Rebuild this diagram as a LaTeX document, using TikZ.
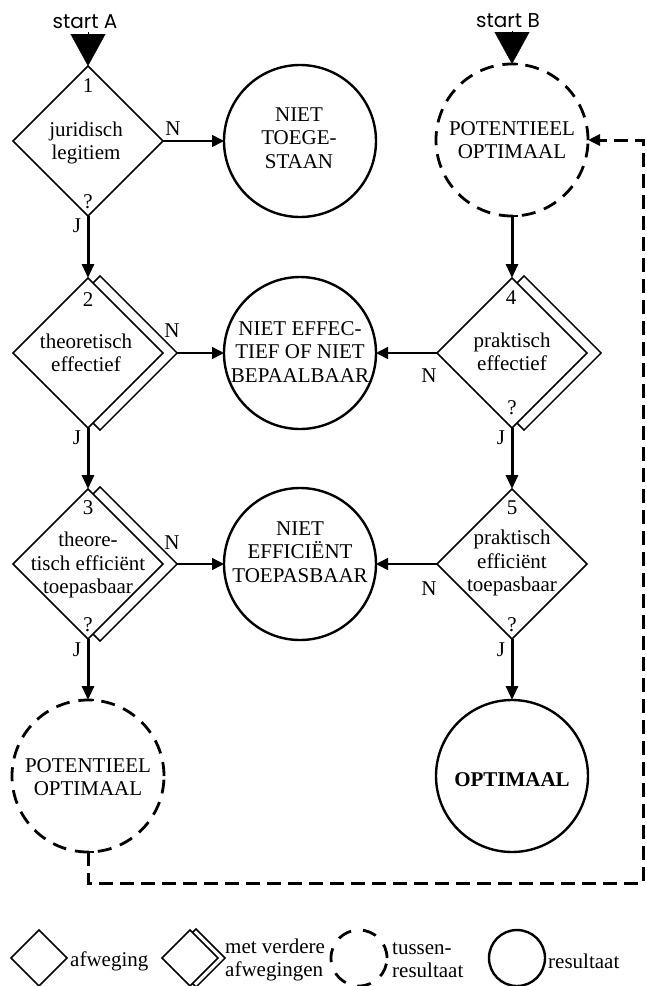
\documentclass[tikz,border=0pt]{standalone}
\usepackage{fontspec}
\setmainfont{Liberation Serif}
\newfontfamily\startfont{Poppins}
\usetikzlibrary{shapes.geometric,arrows.meta,calc}

% second outline along the right-hand edges of a decision diamond
% #1 node, #2 half size, #3 offset of the extra line
\newcommand\furtherline[3]{%
  \draw[further]
    ($(#1.center)+({0.5*#3},{-#2+0.5*#3})$)
    -- ($(#1.center)+({0.5*#3+0.7071*#3},{-#2+0.5*#3-0.7071*#3})$)
    -- ($(#1.center)+({#2+1.4142*#3},0)$)
    -- ($(#1.center)+({0.5*#3+0.7071*#3},{#2-0.5*#3+0.7071*#3})$)
    -- ($(#1.center)+({0.5*#3},{#2-0.5*#3})$);}

\tikzset{
  txt/.style={font=\fontsize{21}{23.5}\selectfont, align=center, inner sep=0pt},
  tag/.style={font=\fontsize{21}{23.5}\selectfont, inner sep=0pt},
  choice/.style={draw, diamond, minimum width=150pt, minimum height=150pt,
    inner sep=0pt, outer sep=0pt, line width=1.5pt},
  outcome/.style={draw, circle, minimum size=152pt, inner sep=0pt, outer sep=0pt,
    line width=2.4pt},
  interim/.style={outcome, line width=2.8pt, dash pattern=on 14pt off 9pt},
  further/.style={line width=1.5pt, line join=miter},
  yesflow/.style={line width=3pt, -{Triangle[length=14pt,width=12pt]}},
  noflow/.style={line width=1.5pt, -{Triangle[length=12pt,width=12pt]}},
  loopflow/.style={line width=3pt, dash pattern=on 14pt off 7pt,
    -{Triangle[length=12pt,width=11pt]}},
  joint/.style={line width=2.8pt},
  startflow/.style={line width=0.4pt, shorten <=4pt,
    -{Triangle[length=32pt,width=35pt]}},
  startlbl/.style={font=\startfont\fontsize{20}{22}\selectfont, inner sep=0pt}
}

\begin{document}
\begin{tikzpicture}[x=1pt,y=-1pt]
\useasboundingbox (0,0) rectangle (646,986);

% decisions
\node[choice] (d1) at (88,141) {};
\node[choice] (d2) at (88,353) {};
\node[choice] (d3) at (88,564) {};
\node[choice] (d4) at (512,353) {};
\node[choice] (d5) at (512,564) {};
\furtherline{d2}{75}{10}
\furtherline{d3}{75}{10}
\furtherline{d4}{75}{10}

% outcomes
\node[outcome] (c1) at (300,141) {};
\node[outcome] (c2) at (300,353) {};
\node[outcome] (c3) at (300,564) {};
\node[interim] (pt) at (512,140) {};
\node[interim] (pl) at (88,776) {};
\node[outcome] (co) at (512,776) {};

% texts of the shapes
\node[txt] (t1) at (86,143) {juridisch\\legitiem};
\node[txt] (t2) at (86,353) {theoretisch\\effectief};
\node[txt] (t3) at (88,565) {theore-\\tisch efficiënt\\toepasbaar};
\node[txt] (t4) at (512,352) {praktisch\\effectief};
\node[txt] (t5) at (512,563) {praktisch\\efficiënt\\toepasbaar};
\node[txt] (tc1) at (299,138) {NIET\\TOEGE-\\STAAN};
\node[txt] (tc2) at (300,352) {NIET EFFEC-\\TIEF OF NIET\\BEPAALBAAR};
\node[txt] (tc3) at (300,552) {NIET\\EFFICIËNT\\TOEPASBAAR};
\node[txt] (tpt) at (512,140) {POTENTIEEL\\OPTIMAAL};
\node[txt] (tpl) at (88,777) {POTENTIEEL\\OPTIMAAL};
\node[txt, font=\fontsize{21}{23.5}\selectfont\bfseries] (tco) at (512,780) {OPTIMAAL};

% numbers, question marks and answers
\node[tag] (n1) at (88,86) {1};
\node[tag] (n2) at (88,300) {2};
\node[tag] (n3) at (88,508) {3};
\node[tag] (n4) at (511,298) {4};
\node[tag] (n5) at (512,508) {5};
\node[tag] (q1) at (88,202) {?};
\node[tag] (q3) at (88,625) {?};
\node[tag] (q4) at (512,408) {?};
\node[tag] (q5) at (512,625) {?};
\node[tag] (a1n) at (173,129) {N};
\node[tag] (a2n) at (172,331) {N};
\node[tag] (a3n) at (172,543) {N};
\node[tag] (a4n) at (429,376) {N};
\node[tag] (a5n) at (429,589) {N};
\node[tag] (a1j) at (77,226) {J};
\node[tag] (a2j) at (77,438) {J};
\node[tag] (a3j) at (77,650) {J};
\node[tag] (a4j) at (501,438) {J};
\node[tag] (a5j) at (501,650) {J};

% start markers
\node[startlbl, anchor=base] (sa) at (85,28) {start A};
\node[startlbl, anchor=base] (sb) at (508,27) {start B};
\draw[startflow] (sa.south -| d1.north) -- (d1.north);
\draw[startflow] (sb.south -| pt.north) -- (pt.north);

% answer N
\draw[noflow] (d1.east) -- (c1.west);
\draw[noflow] ([xshift=14.14pt]d2.east) -- (c2.west);
\draw[noflow] ([xshift=14.14pt]d3.east) -- (c3.west);
\draw[noflow] (d4.west) -- (c2.east);
\draw[noflow] (d5.west) -- (c3.east);

% answer J
\draw[yesflow] (d1.south) -- (d2.north);
\draw[yesflow] (d2.south) -- (d3.north);
\draw[yesflow] (d3.south) -- (pl.north);
\draw[yesflow] (pt.south) -- (d4.north);
\draw[yesflow] (d4.south) -- (d5.north);
\draw[yesflow] (d5.south) -- (co.north);

% joints where lines meet the dashed circles
\draw[joint] ([xshift=-6pt]pt.north) -- ([xshift=6pt]pt.north);
\draw[joint] ([xshift=-6pt]pt.south) -- ([xshift=6pt]pt.south);
\draw[joint] ([xshift=-6pt]pl.north) -- ([xshift=6pt]pl.north);
\draw[joint] ([xshift=-6pt]pl.south) -- ([xshift=6pt]pl.south);

% loop back from the first column to start B
\coordinate (fb) at (643,883);
\draw[loopflow] (pl.south) |- (fb) |- (pt.east);

% legend
\node[choice, minimum width=56pt, minimum height=56pt] (lg1) at (39,958) {};
\node[tag, anchor=west] (lt1) at (70,961) {afweging};
\node[choice, minimum width=56pt, minimum height=56pt] (lg2) at (190,958) {};
\furtherline{lg2}{28}{5}
\node[txt, align=left, anchor=west] (lt2) at (225,960) {met verdere\\afwegingen};
\node[interim, minimum size=56pt, dash pattern=on 14pt off 12pt] (lg3) at (359,958) {};
\node[txt, align=left, anchor=west] (lt3) at (392,960) {tussen-\\resultaat};
\node[outcome, minimum size=56pt] (lg4) at (517,958) {};
\node[tag, anchor=west] (lt4) at (548,961) {resultaat};
\end{tikzpicture}
\end{document}
